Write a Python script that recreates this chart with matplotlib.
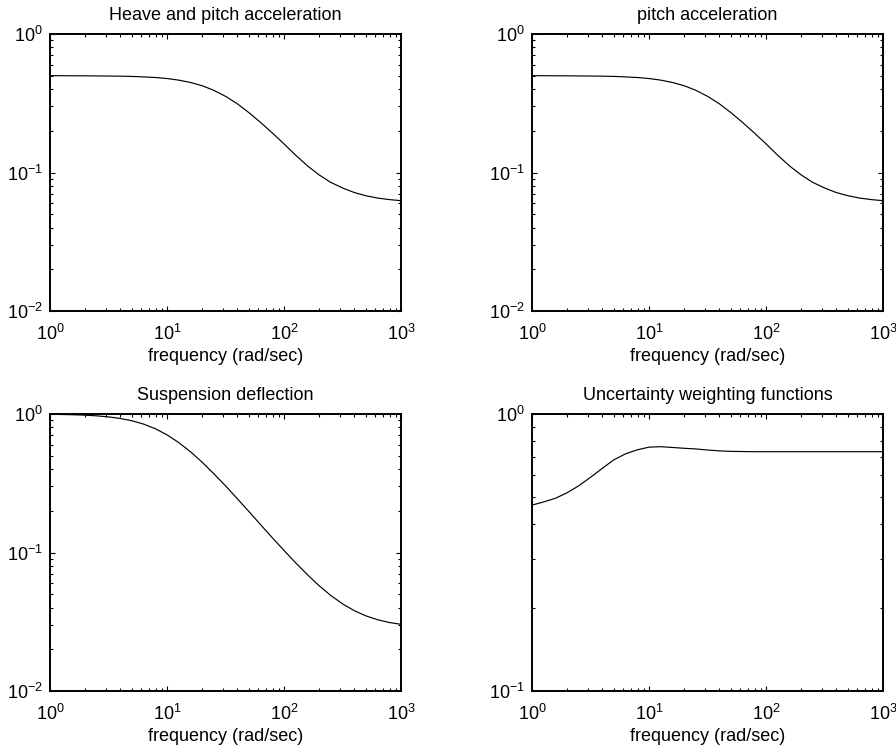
import matplotlib
matplotlib.use("Agg")
import matplotlib.pyplot as plt
from matplotlib.ticker import LogLocator, NullFormatter, LogFormatterSciNotation

plt.rcParams['font.family'] = ['Liberation Sans', 'DejaVu Sans']
plt.rcParams['mathtext.fontset'] = 'custom'
plt.rcParams['mathtext.rm'] = 'Liberation Sans'
plt.rcParams['mathtext.it'] = 'Liberation Sans:italic'
plt.rcParams['mathtext.bf'] = 'Liberation Sans:bold'

# frequency grid (rad/sec)
freq = [1, 1.25, 1.6, 2, 2.5, 3.2, 4, 5, 6.3, 8, 10, 12.5, 16, 20, 25, 32, 40,
        50, 63, 80, 100, 125, 160, 200, 250, 320, 400, 500, 630, 800, 1000]

heave_pitch = [0.500, 0.500, 0.499, 0.499, 0.498, 0.497, 0.496, 0.494, 0.490,
               0.485, 0.477, 0.465, 0.446, 0.423, 0.393, 0.353, 0.313, 0.271,
               0.230, 0.192, 0.161, 0.134, 0.111, 0.0960, 0.0850, 0.0770,
               0.0716, 0.0680, 0.0654, 0.0637, 0.0626]

pitch_acc = [0.500, 0.500, 0.499, 0.499, 0.498, 0.497, 0.496, 0.494, 0.490,
             0.485, 0.477, 0.465, 0.446, 0.423, 0.393, 0.353, 0.313, 0.271,
             0.230, 0.192, 0.161, 0.134, 0.111, 0.0960, 0.0850, 0.0770,
             0.0716, 0.0680, 0.0654, 0.0637, 0.0626]

susp_defl = [0.995, 0.992, 0.987, 0.981, 0.970, 0.952, 0.928, 0.894, 0.846,
             0.781, 0.707, 0.625, 0.531, 0.448, 0.372, 0.300, 0.244, 0.198,
             0.159, 0.127, 0.1035, 0.0847, 0.0686, 0.0575, 0.0491, 0.0423,
             0.0380, 0.0349, 0.0327, 0.0312, 0.0303]

uncert = [0.469, 0.481, 0.497, 0.520, 0.550, 0.593, 0.637, 0.683, 0.718,
          0.743, 0.759, 0.762, 0.757, 0.752, 0.748, 0.741, 0.736, 0.733,
          0.732, 0.731, 0.731, 0.731, 0.731, 0.731, 0.731, 0.731, 0.731,
          0.731, 0.731, 0.731, 0.731]

titles = ["Heave and pitch acceleration", "pitch acceleration",
          "Suspension deflection", "Uncertainty weighting functions"]
series = [heave_pitch, pitch_acc, susp_defl, uncert]
ylims = [(1e-2, 1e0), (1e-2, 1e0), (1e-2, 1e0), (1e-1, 1e0)]
xlabel = "frequency (rad/sec)"

W, H = 896, 753
fig = plt.figure(figsize=(W / 100, H / 100), dpi=100)

positions = [(50, 34), (532, 34), (50, 414), (532, 414)]
aw, ah = 351, 277
FS = 13

for (px, py), title, vals, ylim in zip(positions, titles, series, ylims):
    ax = fig.add_axes([px / W, (H - py - ah) / H, aw / W, ah / H])
    ax.plot(freq, vals, color='black', linewidth=0.85)
    ax.set_xscale('log')
    ax.set_yscale('log')
    ax.set_xlim(1, 1000)
    ax.set_ylim(*ylim)
    ax.xaxis.set_major_locator(LogLocator(base=10, numticks=10))
    ax.yaxis.set_major_locator(LogLocator(base=10, numticks=10))
    ax.xaxis.set_minor_locator(LogLocator(base=10, subs=range(2, 10), numticks=20))
    ax.yaxis.set_minor_locator(LogLocator(base=10, subs=range(2, 10), numticks=20))
    ax.xaxis.set_minor_formatter(NullFormatter())
    ax.yaxis.set_minor_formatter(NullFormatter())
    ax.xaxis.set_major_formatter(LogFormatterSciNotation())
    ax.yaxis.set_major_formatter(LogFormatterSciNotation())
    ax.tick_params(which='both', direction='in', top=True, right=True,
                   labelsize=FS, width=0.8, colors='black')
    ax.tick_params(which='major', length=3.5)
    ax.tick_params(which='minor', length=2.0)
    ax.tick_params(axis='x', which='major', pad=9)
    ax.tick_params(axis='y', which='major', pad=5)
    for sp in ax.spines.values():
        sp.set_linewidth(1.4)
    ax.set_title(title, fontsize=FS, pad=10)
    ax.set_xlabel(xlabel, fontsize=FS, labelpad=3)

fig.savefig("out.png", dpi=100)
